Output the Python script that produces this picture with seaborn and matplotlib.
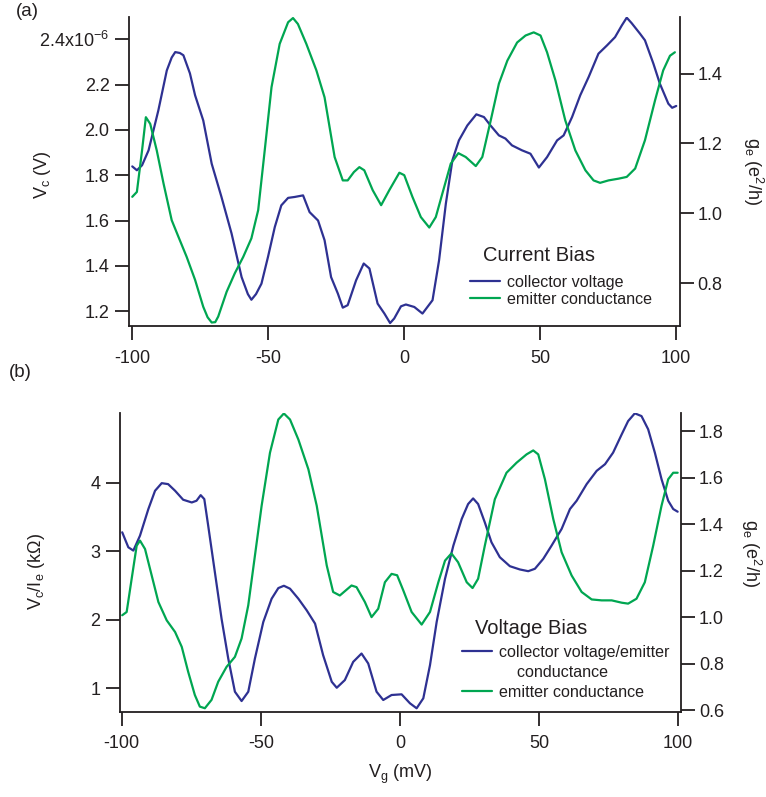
import numpy as np
import pandas as pd
import matplotlib
matplotlib.use("Agg")
import matplotlib.pyplot as plt
import seaborn as sns
from matplotlib.lines import Line2D

# ---------------- data ----------------
# (a) Current bias: collector voltage (left axis)
a_vc_x = [-100, -98.3, -96.4, -94.0, -90.4, -87.3, -85.5, -84.2, -82.5, -81.2, -78.8, -76.9, -73.9, -70.8,
          -67.2, -63.5, -59.8, -57.5, -56.2, -54.5, -52.5, -50.1, -47.6, -45.2, -42.7, -40.3, -37.2, -34.8,
          -31.7, -29.3, -26.9, -24.4, -22.6, -20.8, -17.7, -14.9, -12.8, -9.8, -7.3, -5.2,
          -3.7, -1.2, 0.6, 3.7, 6.7, 10.4, 12.8, 15.3, 17.7, 20.1, 23.2, 26.5, 29.3, 31.7,
          34.8, 37.2, 39.6, 43.3, 46.4, 49.5, 52.5, 56.2, 58.6, 61.7, 64.7, 67.8, 71.4, 74.5,
          77.5, 80.0, 81.8, 83.6, 86.7, 88.5, 91.6, 94.0, 97.1, 98.5, 100]
a_vc_y = [1.839, 1.822, 1.844, 1.91, 2.087, 2.263, 2.320, 2.344, 2.340, 2.33, 2.25, 2.153, 2.042, 1.851,
          1.704, 1.543, 1.35, 1.275, 1.25, 1.275, 1.321, 1.439, 1.571, 1.667, 1.70, 1.704, 1.711, 1.637,
          1.60, 1.513, 1.35, 1.277, 1.215, 1.226, 1.336, 1.41, 1.388, 1.233, 1.189, 1.147,
          1.167, 1.221, 1.229, 1.218, 1.189, 1.248, 1.424, 1.675, 1.866, 1.954, 2.02, 2.069,
          2.057, 2.02, 1.976, 1.962, 1.932, 1.91, 1.895, 1.834, 1.88, 1.954, 1.976, 2.057,
          2.153, 2.234, 2.337, 2.373, 2.41, 2.462, 2.496, 2.472, 2.425, 2.396, 2.293, 2.204,
          2.116, 2.098, 2.106]
# (a) emitter conductance (right axis)
a_ge_x = [-100, -98.3, -96.4, -95.0, -93.4, -91.0, -88.5, -85.5, -83.0, -80.0, -76.9, -73.9,
          -72.3, -70.8, -69.5, -68.4, -65.3, -62.3, -59.2, -56.2, -53.7, -51.3, -48.8, -45.8, -42.7, -40.9,
          -39.1, -36.0, -32.3, -29.3, -25.6, -22.6, -20.8, -18.5, -16.5, -14.7, -11.6, -8.5, -5.5,
          -1.8, 0.0, 3.0, 6.1, 9.2, 11.6, 14.0, 17.1, 19.9, 22.6, 26.3, 28.7, 31.8, 34.8,
          37.9, 41.5, 44.6, 47.6, 50.1, 52.5, 55.6, 59.2, 62.9, 66.6, 69.6, 72.0, 75.1, 78.8,
          81.8, 84.9, 88.5, 92.2, 95.2, 97.7, 99.5]
a_ge_y = [1.047, 1.061, 1.18, 1.275, 1.256, 1.18, 1.085, 0.98, 0.932, 0.875, 0.809, 0.732,
          0.702, 0.687, 0.688, 0.704, 0.775, 0.828, 0.875, 0.928, 1.009, 1.18, 1.361, 1.485, 1.547, 1.559,
          1.542, 1.485, 1.409, 1.332, 1.161, 1.094, 1.094, 1.118, 1.132, 1.123, 1.066, 1.023, 1.066,
          1.116, 1.109, 1.047, 0.989, 0.959, 0.989, 1.056, 1.142, 1.172, 1.161, 1.135, 1.161,
          1.266, 1.371, 1.437, 1.489, 1.509, 1.518, 1.509, 1.461, 1.38, 1.266, 1.18, 1.123,
          1.094, 1.087, 1.094, 1.099, 1.104, 1.128, 1.209, 1.323, 1.409, 1.451, 1.461]

# (b) Voltage bias: collector voltage / emitter current (left axis)
b_r_x = [-99.8, -97.6, -95.8, -93.4, -90.4, -88.0, -85.6, -83.3, -80.8, -77.9, -74.8, -73.1,
         -71.6, -70.3, -68.9, -66.5, -64.1, -61.7, -59.3, -56.9, -54.5, -52.1, -49.1, -46.1,
         -43.7, -41.7, -39.5, -36.5, -33.5, -30.5, -27.6, -24.5, -22.7, -19.8, -16.8, -13.8,
         -11.4, -8.4, -6.0, -3.0, 0.6, 3.6, 6.0, 8.4, 10.8, 13.2, 16.2, 19.2, 22.2, 24.5,
         26.3, 28.1, 30.5, 32.9, 35.9, 39.5, 43.1, 46.1, 48.5, 51.5, 54.5, 58.1, 61.1, 63.5,
         67.1, 70.7, 73.7, 76.6, 79.7, 82.0, 84.4, 86.8, 89.2, 91.6, 94.0, 96.4, 98.2, 99.8]
b_r_y = [3.277, 3.058, 3.01, 3.229, 3.617, 3.884, 3.995, 3.981, 3.884, 3.753, 3.713, 3.738,
         3.82, 3.762, 3.374, 2.694, 2.015, 1.434, 0.948, 0.812, 0.948, 1.434, 1.967, 2.307,
         2.462, 2.496, 2.453, 2.307, 2.137, 1.943, 1.482, 1.093, 1.006, 1.118, 1.384, 1.506,
         1.361, 0.948, 0.827, 0.9, 0.91, 0.779, 0.706, 0.852, 1.336, 1.967, 2.598, 3.083,
         3.472, 3.69, 3.772, 3.69, 3.422, 3.131, 2.913, 2.782, 2.734, 2.709, 2.744, 2.889,
         3.083, 3.326, 3.617, 3.738, 3.981, 4.175, 4.272, 4.441, 4.709, 4.902, 5.015, 4.975,
         4.782, 4.441, 4.054, 3.738, 3.617, 3.578]
# (b) emitter conductance (right axis)
b_ge_x = [-99.8, -98.2, -96.4, -94.6, -93.4, -91.6, -89.2, -86.8, -83.8, -80.8, -78.4, -76.1,
          -73.7, -71.9, -70.1, -67.7, -65.3, -62.3, -59.3, -56.9, -54.5, -52.1, -49.7, -46.7,
          -43.7, -41.7, -39.5, -36.5, -32.9, -29.9, -26.3, -24.0, -21.6, -17.4, -15.6, -12.6,
          -10.2, -7.8, -5.4, -3.0, -1.0, 1.2, 4.2, 7.8, 10.8, 13.8, 16.2, 18.5, 20.9, 24.0,
          26.1, 28.1, 30.5, 34.1, 38.3, 41.9, 45.5, 47.9, 49.7, 52.1, 55.1, 58.1, 61.7, 65.3,
          68.9, 72.5, 76.1, 79.7, 82.0, 85.0, 88.0, 91.0, 94.0, 96.4, 98.2, 99.8]
b_ge_y = [1.008, 1.022, 1.165, 1.307, 1.329, 1.293, 1.179, 1.065, 0.986, 0.936, 0.872, 0.765,
          0.665, 0.615, 0.608, 0.644, 0.722, 0.786, 0.829, 0.908, 1.051, 1.265, 1.479, 1.707,
          1.85, 1.876, 1.85, 1.764, 1.636, 1.479, 1.222, 1.108, 1.093, 1.136, 1.129, 1.065,
          1.0, 1.036, 1.15, 1.186, 1.18, 1.115, 1.022, 0.968, 1.022, 1.15, 1.243, 1.274,
          1.236, 1.15, 1.125, 1.165, 1.307, 1.507, 1.621, 1.664, 1.7, 1.717, 1.7, 1.593,
          1.422, 1.279, 1.179, 1.108, 1.076, 1.072, 1.072, 1.062, 1.058, 1.079, 1.15, 1.307,
          1.479, 1.593, 1.621, 1.621]

x_ticks = [-100, -50, 0, 50, 100]
a_left_ticks = [1.2, 1.4, 1.6, 1.8, 2.0, 2.2, 2.4]
a_left_labels = ["1.2", "1.4", "1.6", "1.8", "2.0", "2.2", r"2.4x10$^{\mathregular{-6}}$"]
a_right_ticks = [0.8, 1.0, 1.2, 1.4]
b_left_ticks = [1, 2, 3, 4]
b_right_ticks = [0.6, 0.8, 1.0, 1.2, 1.4, 1.6, 1.8]

# ---------------- style ----------------
sns.set_style("ticks")
TXT = "#231F20"
BLUE = "#2E3192"
GREEN = "#00A651"
plt.rcParams["font.family"] = ["Liberation Sans", "DejaVu Sans"]
plt.rcParams["mathtext.fontset"] = "custom"
plt.rcParams["mathtext.rm"] = "Liberation Sans"
plt.rcParams["mathtext.it"] = "Liberation Sans:italic"
plt.rcParams["mathtext.bf"] = "Liberation Sans:bold"
plt.rcParams["axes.unicode_minus"] = False
plt.rcParams["text.color"] = TXT
plt.rcParams["axes.labelcolor"] = TXT
plt.rcParams["xtick.color"] = TXT
plt.rcParams["ytick.color"] = TXT
plt.rcParams["axes.edgecolor"] = TXT

W, H = 766, 797
fig = plt.figure(figsize=(W / 100, H / 100), dpi=100)

TICK_FS = 13
LW = 1.6
SPINE_LW = 1.3


def px_axes(l, r, t, b):
    return fig.add_axes([l / W, 1 - b / H, (r - l) / W, (b - t) / H])


def style_pair(ax, ax2):
    for a in (ax, ax2):
        a.set_facecolor("none")
        a.spines["top"].set_visible(False)
    ax.spines["right"].set_visible(False)
    ax2.spines["left"].set_visible(False)
    ax2.spines["bottom"].set_visible(False)
    for s in ("left", "bottom"):
        ax.spines[s].set_linewidth(SPINE_LW)
    ax2.spines["right"].set_linewidth(SPINE_LW)
    ax.tick_params(axis="both", direction="out", length=10, width=SPINE_LW,
                   labelsize=TICK_FS, colors=TXT)
    ax.tick_params(axis="x", pad=7)
    ax.tick_params(axis="y", pad=4)
    ax2.tick_params(axis="y", direction="out", length=10, width=SPINE_LW,
                    labelsize=TICK_FS, colors=TXT, pad=3)
    ax.set_xticks(x_ticks)
    ax.set_xticklabels([str(v) for v in x_ticks])


# ---------------- panel (a) ----------------
axA = px_axes(129, 679.5, 17, 326)
axA2 = axA.twinx()
sns.lineplot(x=a_vc_x, y=a_vc_y, ax=axA, color=BLUE, linewidth=LW)
sns.lineplot(x=a_ge_x, y=a_ge_y, ax=axA2, color=GREEN, linewidth=LW)
axA.set_xlim(-101.2, 101.2)
axA.set_ylim(1.134, 2.499)
axA2.set_ylim(0.677, 1.562)
style_pair(axA, axA2)
axA.set_yticks(a_left_ticks)
axA.set_yticklabels(a_left_labels)
axA2.set_yticks(a_right_ticks)
axA2.set_yticklabels([f"{v:.1f}" for v in a_right_ticks])
axA.set_ylabel(r"$\mathregular{V_c}$ (V)", fontsize=TICK_FS)
axA.yaxis.set_label_coords(-0.138, 0.49)
axA2.set_ylabel(r"$\mathregular{g_e}$ ($\mathregular{e^2}$/h)", fontsize=TICK_FS,
                rotation=270, va="bottom")
axA2.yaxis.set_label_coords(1.112, 0.5)
axA.set_xlabel("")

legA = axA.legend(handles=[Line2D([], [], color=BLUE, lw=LW), Line2D([], [], color=GREEN, lw=LW)],
                  labels=["collector voltage", "emitter conductance"],
                  loc="upper left", bbox_to_anchor=(470 / W, 1 - 275 / H),
                  bbox_transform=fig.transFigure, frameon=False, fontsize=11.6,
                  handlelength=1.85, handletextpad=0.45, labelspacing=0.12,
                  borderpad=0, borderaxespad=0)
fig.text(483 / W, 1 - 256 / H, "Current Bias", fontsize=14.5, ha="left", va="center")

# ---------------- panel (b) ----------------
axB = px_axes(119.7, 681, 413, 711.5)
axB2 = axB.twinx()
sns.lineplot(x=b_r_x, y=b_r_y, ax=axB, color=BLUE, linewidth=LW)
sns.lineplot(x=b_ge_x, y=b_ge_y, ax=axB2, color=GREEN, linewidth=LW)
axB.set_xlim(-100.7, 101.0)
axB.set_ylim(0.659, 5.02)
axB2.set_ylim(0.594, 1.878)
style_pair(axB, axB2)
axB.set_yticks(b_left_ticks)
axB.set_yticklabels([str(v) for v in b_left_ticks])
axB2.set_yticks(b_right_ticks)
axB2.set_yticklabels([f"{v:.1f}" for v in b_right_ticks])
axB.set_ylabel(r"$\mathregular{V_c/I_e}$ (k$\mathregular{\Omega}$)", fontsize=TICK_FS)
axB.yaxis.set_label_coords(-0.13, 0.47)
axB2.set_ylabel(r"$\mathregular{g_e}$ ($\mathregular{e^2}$/h)", fontsize=TICK_FS,
                rotation=270, va="bottom")
axB2.yaxis.set_label_coords(1.103, 0.53)
axB.set_xlabel(r"$\mathregular{V_g}$ (mV)", fontsize=TICK_FS, labelpad=8)

legB = axB.legend(handles=[Line2D([], [], color=BLUE, lw=LW), Line2D([], [], color="none", lw=LW),
                           Line2D([], [], color=GREEN, lw=LW)],
                  labels=["collector voltage/emitter", "    conductance", "emitter conductance"],
                  loc="upper left", bbox_to_anchor=(461.7 / W, 1 - 645 / H),
                  bbox_transform=fig.transFigure, frameon=False, fontsize=11.6,
                  handlelength=1.85, handletextpad=0.45, labelspacing=0.3,
                  borderpad=0, borderaxespad=0)
fig.text(475 / W, 1 - 628 / H, "Voltage Bias", fontsize=14.5, ha="left", va="center")

fig.text(27 / W, 1 - 12 / H, "(a)", fontsize=13.5, ha="center", va="center")
fig.text(20 / W, 1 - 373 / H, "(b)", fontsize=13.5, ha="center", va="center")

fig.savefig("out.png", dpi=100)
